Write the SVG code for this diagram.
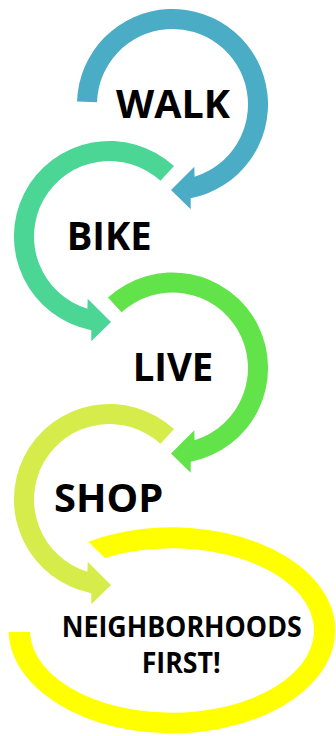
<svg xmlns="http://www.w3.org/2000/svg" width="336" height="736" viewBox="0 0 336 736">
<style>
.lbl{font-family:"Open Sans","Liberation Sans",sans-serif;font-weight:bold;fill:#000;text-anchor:middle}
.big{font-size:40px}
.small{font-size:28px}
</style>
<rect width="336" height="736" fill="#fff"/>
<g id="connectors">
<path id="yellow-loop" fill="#FFFF00" d="M8.7,632 A163.3,103 0 1 0 88.3,541.8 L105,558 A142,82.2 0 1 1 30,632 Z"/>
<path id="walk-arrow" fill="#4BACC6" d="M77.05,101.5 A95.5,95.5 0 1 1 190.7,198.2 L190.7,209.3 L171,190 L194.3,166.7 L194.6,176.7 A75.5,75.5 0 1 0 97.04,102.13 Z"/>
<path id="bike-arrow" fill="#4BD695" d="M174.02,166.09 A95.5,95.5 0 1 0 91.3,330.2 L91.3,341.3 L111,322 L87.7,298.7 L87.4,308.7 A75.5,75.5 0 1 1 160.5,180.83 Z"/>
<path id="live-arrow" fill="#62E34A" d="M107.98,297.59 A95.5,95.5 0 1 1 190.7,461.7 L190.7,472.8 L171,453.5 L194.3,430.2 L194.6,440.2 A75.5,75.5 0 1 0 121.5,312.33 Z"/>
<path id="shop-arrow" fill="#D6EC4A" d="M174.02,429.09 A95.5,95.5 0 1 0 91.3,593.2 L91.3,604.3 L111,585 L87.7,561.7 L87.4,571.7 A75.5,75.5 0 1 1 160.5,443.83 Z"/>
</g>
<g id="walk"><text class="lbl big" x="173" y="118.3" textLength="114" lengthAdjust="spacingAndGlyphs">WALK</text></g>
<g id="bike"><text class="lbl big" x="109.2" y="250" textLength="85" lengthAdjust="spacingAndGlyphs">BIKE</text></g>
<g id="live"><text class="lbl big" x="173" y="380.7" textLength="80.6" lengthAdjust="spacingAndGlyphs">LIVE</text></g>
<g id="shop"><text class="lbl big" x="108.7" y="511.7" textLength="109.3" lengthAdjust="spacingAndGlyphs">SHOP</text></g>
<g id="neighborhoods">
<text class="lbl small" x="181.7" y="637.3" textLength="240" lengthAdjust="spacingAndGlyphs">NEIGHBORHOODS</text>
<text class="lbl small" x="181.2" y="672.7" textLength="79" lengthAdjust="spacingAndGlyphs">FIRST!</text>
</g>
</svg>
